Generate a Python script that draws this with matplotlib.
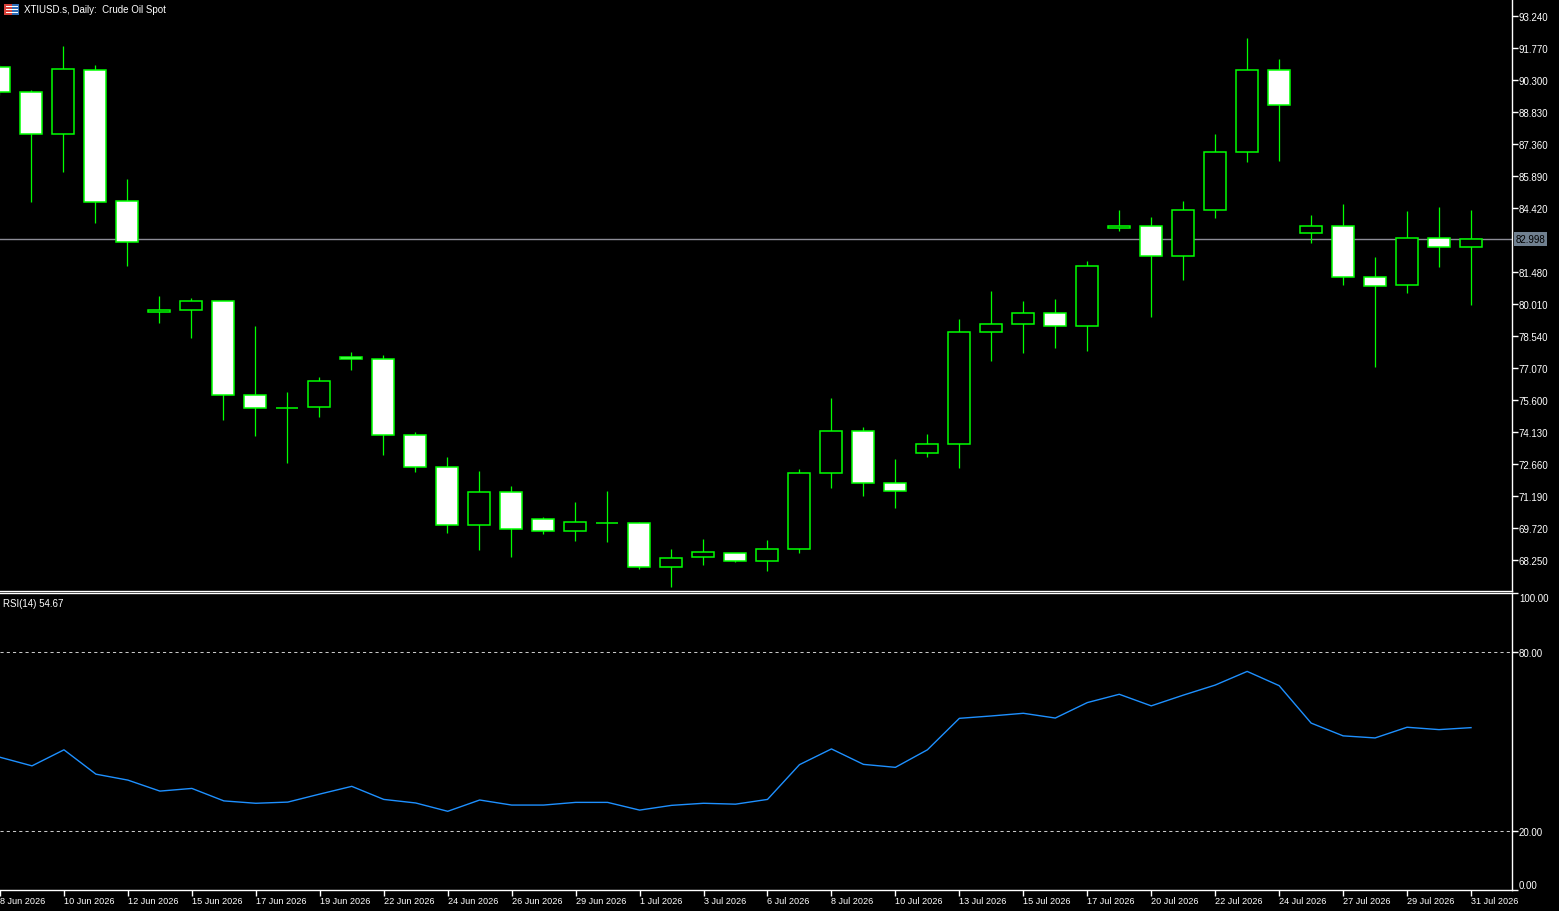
import matplotlib
matplotlib.use('Agg')
import matplotlib.pyplot as plt
from matplotlib.patches import Rectangle
from matplotlib.transforms import blended_transform_factory

plt.rc('font', family='Liberation Sans')

# daily bars (one short weekend bar per week, as the terminal shows them)
jun_days = [8, 9, 10, 11, 12, 14, 15, 16, 17, 18, 19, 21, 22, 23, 24, 25, 26, 28, 29, 30]
jul_days = [1, 2, 3, 5, 6, 7, 8, 9, 10, 12, 13, 14, 15, 16, 17, 19, 20, 21, 22, 23, 24,
            26, 27, 28, 29, 30, 31]
dates = ['%d Jun 2026' % d for d in jun_days] + ['%d Jul 2026' % d for d in jul_days]

opens = [90.88, 89.74, 87.81, 90.75, 84.73, 79.63, 79.72, 80.13, 75.82, 75.25,
         75.27, 77.56, 77.47, 73.98, 72.51, 69.84, 71.36, 70.12, 69.57, 69.97,
         69.94, 67.92, 68.37, 68.56, 68.19, 68.74, 72.23, 74.16, 71.77, 73.15,
         73.57, 78.71, 79.08, 79.58, 78.99, 83.49, 83.58, 82.20, 84.31, 86.98,
         90.75, 83.26, 83.58, 81.24, 80.87, 83.03, 82.61]
highs = [91.00, 89.84, 91.86, 90.99, 85.75, 80.38, 80.29, 80.15, 79.00, 75.97,
         76.66, 77.81, 77.67, 74.13, 72.98, 72.34, 71.65, 70.23, 70.91, 71.42,
         70.00, 68.76, 69.22, 68.58, 69.17, 72.43, 75.69, 74.36, 72.89, 74.04,
         79.32, 80.61, 80.15, 80.24, 81.99, 84.33, 84.01, 84.74, 87.82, 92.23,
         91.26, 84.10, 84.60, 82.17, 84.28, 84.47, 84.33]
lows = [89.60, 84.71, 86.09, 83.74, 81.77, 79.15, 78.46, 74.70, 73.96, 72.72,
        74.83, 76.99, 73.09, 72.31, 69.50, 68.72, 68.40, 69.46, 69.14, 69.09,
        67.85, 67.02, 68.03, 68.17, 67.76, 68.59, 71.57, 71.20, 70.65, 73.00,
        72.49, 77.41, 77.77, 78.00, 77.87, 83.38, 79.43, 81.13, 83.97, 86.55,
        86.59, 82.83, 80.90, 77.13, 80.53, 81.72, 79.95]
closes = [89.74, 87.81, 90.79, 84.68, 82.84, 79.72, 80.13, 75.82, 75.22, 75.24,
          76.46, 77.47, 73.98, 72.51, 69.84, 71.36, 69.66, 69.57, 69.98, 69.96,
          67.92, 68.33, 68.60, 68.19, 68.74, 72.23, 74.16, 71.77, 71.41, 73.57,
          78.71, 79.08, 79.58, 78.99, 81.74, 83.58, 82.20, 84.31, 86.98, 90.75,
          89.14, 83.58, 81.24, 80.82, 83.03, 82.61, 82.998]
rsi = [44.7, 41.8, 47.2, 39.0, 37.0, 33.3, 34.2, 30.0, 29.2, 29.6,
       32.3, 34.9, 30.5, 29.3, 26.5, 30.3, 28.6, 28.6, 29.5, 29.5,
       26.9, 28.5, 29.2, 28.9, 30.5, 42.2, 47.5, 42.3, 41.3, 47.2,
       57.8, 58.6, 59.5, 57.9, 63.1, 65.9, 62.0, 65.6, 69.0, 73.6,
       68.8, 56.2, 51.9, 51.2, 54.8, 54.0, 54.67]

price_ticks = [68.25, 69.72, 71.19, 72.66, 74.13, 75.60, 77.07, 78.54, 80.01,
               81.48, 84.42, 85.89, 87.36, 88.83, 90.30, 91.77, 93.24]
rsi_ticks = [0, 20, 80, 100]
rsi_levels = [20, 80]
last_price = 82.998

W, H = 1559, 912
lime = '#00FF00'
fig = plt.figure(figsize=(W / 100, H / 100), dpi=100, facecolor='black')

ax = fig.add_axes([0, 1 - 592 / H, 1512 / W, 592 / H], facecolor='black')
ax2 = fig.add_axes([0, 1 - 891 / H, 1512 / W, 297 / H], facecolor='black')

x = list(range(len(opens)))
for a in (ax, ax2):
    a.set_xlim(1 / 32, 1513 / 32)
    a.spines['left'].set_visible(False)
    for s in ('right', 'top', 'bottom'):
        a.spines[s].set_color('white')
        a.spines[s].set_linewidth(1)
ax.spines['top'].set_visible(False)

# candles
ax.set_ylim(66.826, 94.021)
ax.vlines(x, lows, highs, color=lime, lw=0.9, zorder=2)
bottoms = [min(o, c) for o, c in zip(opens, closes)]
heights = [abs(c - o) for o, c in zip(opens, closes)]
fills = ['white' if c < o else 'black' for o, c in zip(opens, closes)]
ax.bar(x, heights, bottom=bottoms, width=0.68, color=fills, edgecolor=lime,
       linewidth=1.1, zorder=3)
ax.axhline(last_price, color='#8C8C96', lw=1, zorder=1)

ax.set_xticks([])
ax.yaxis.tick_right()
ax.set_yticks(price_ticks)
ax.set_yticklabels(['%.3f' % v for v in price_ticks])
ax.tick_params(axis='y', colors='white', length=4, width=1, pad=1, labelsize=7)

tr = blended_transform_factory(ax.transAxes, ax.transData)
ax.text(1 + 4 / 1512, last_price, '%.3f' % last_price, transform=tr, ha='left',
        va='center', fontsize=7, color='black',
        bbox=dict(facecolor='#708090', edgecolor='none', pad=1.2))

# RSI panel
ax2.set_ylim(0, 100)
ax2.plot(x, rsi, color='#1E90FF', lw=1)
for lv in rsi_levels:
    ax2.axhline(lv, color='#C8C8C8', lw=0.75, dashes=(3, 3))
ax2.yaxis.tick_right()
ax2.set_yticks(rsi_ticks)
ax2.set_yticklabels(['%.2f' % v for v in rsi_ticks])
ax2.tick_params(axis='y', colors='white', length=4, width=1, pad=1, labelsize=7)
for lab, v in zip(ax2.get_yticklabels(), rsi_ticks):
    if v == 100:
        lab.set_va('top')
    elif v == 0:
        lab.set_va('bottom')

xt = x[::2]
ax2.set_xticks(xt)
ax2.set_xticklabels([dates[i] for i in xt], ha='left')
ax2.tick_params(axis='x', colors='white', length=4, width=1, pad=0, labelsize=6.6)

ax2.text(3 / 1512, 1 - 10 / 297, 'RSI(14) %.2f' % rsi[-1], transform=ax2.transAxes,
         color='white', fontsize=7, va='center', ha='left')

# title with small symbol icon
def fx(px):
    return px / W


def fy(py):
    return 1 - py / H


fig.add_artist(Rectangle((fx(4), fy(15.5)), 8 / W, 10.5 / H, facecolor='#D8413A',
                         edgecolor='none', transform=fig.transFigure))
fig.add_artist(Rectangle((fx(11.5), fy(15.5)), 7.5 / W, 10.5 / H, facecolor='#2F6DB5',
                         edgecolor='none', transform=fig.transFigure))
for yy in (7.5, 10.5, 13.5):
    fig.add_artist(Rectangle((fx(5.5), fy(yy)), 12 / W, 1 / H, facecolor='white',
                             edgecolor='none', transform=fig.transFigure))
fig.text(fx(24), fy(10), 'XTIUSD.s, Daily:  Crude Oil Spot', color='white',
         fontsize=7, va='center', ha='left')

fig.savefig('out.png', dpi=100, facecolor='black')
